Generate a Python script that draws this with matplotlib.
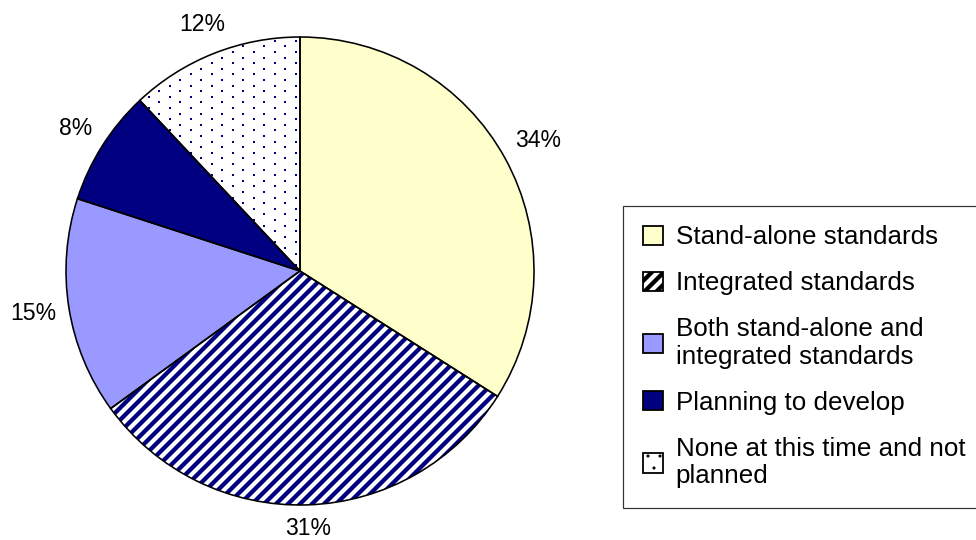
import numpy as np
import matplotlib.pyplot as plt

# dados
categorias = ["Stand-alone standards", "Integrated standards",
              "Both stand-alone and\nintegrated standards",
              "Planning to develop", "None at this time and not\nplanned"]
valores = [34, 31, 15, 8, 12]
cores = ["#FFFFCC", "white", "#9999FF", "#000080", "white"]
hachuras = [None, "//", None, None, None]
pontilhado = [False, False, False, False, True]

plt.rcParams['font.family'] = ['Liberation Sans', 'DejaVu Sans']
plt.rcParams['hatch.linewidth'] = 4.3

DPI = 72
RAIO_PX = 234
fig = plt.figure(figsize=(976 / DPI, 540 / DPI), dpi=DPI)
ax = fig.add_axes([(300 - RAIO_PX) / 976, (269 - RAIO_PX) / 540,
                   2 * RAIO_PX / 976, 2 * RAIO_PX / 540])

# camada de preenchimento (hachuras em azul marinho)
wedges, textos, pcts = ax.pie(valores, colors=cores, startangle=90, counterclock=False,
                              radius=1, autopct='%1.0f%%', pctdistance=1.12,
                              wedgeprops=dict(linewidth=0, edgecolor="#000080"),
                              textprops=dict(fontsize=23))
for w, h in zip(wedges, hachuras):
    if h:
        w.set_hatch(h)

# textura de pontos (padrão "None at this time")
passo_x = 21.0 / RAIO_PX
passo_y = 5.6 / RAIO_PX
for w, p in zip(wedges, pontilhado):
    if not p:
        continue
    linhas = np.arange(-1.05, 1.05, passo_y)
    xs, ys = [], []
    for i, yy in enumerate(linhas):
        off = (passo_x / 2) * (i % 2)
        xx = np.arange(-1.05 + off, 1.05, passo_x)
        xs.extend(xx)
        ys.extend([yy] * len(xx))
    sc = ax.scatter(xs, ys, s=2.2, marker='s', c="#000080", linewidths=0)
    sc.set_clip_path(w)

# contornos pretos por cima
contornos, _ = ax.pie(valores, colors=["none"] * 5, startangle=90, counterclock=False,
                      radius=1, wedgeprops=dict(linewidth=1.6, edgecolor="black"))

# rótulos de porcentagem fora do círculo, com folga constante
fig.canvas.draw()
r = fig.canvas.get_renderer()
acum = 0
for t, v in zip(pcts, valores):
    ang = np.deg2rad(90 - (acum + v / 2) / sum(valores) * 360)
    acum += v
    bb = t.get_window_extent(renderer=r)
    meia = (bb.width / 2 * abs(np.cos(ang)) + bb.height / 2 * abs(np.sin(ang))) / RAIO_PX
    d = 1 + 0.05 + meia
    t.set_position((d * np.cos(ang), d * np.sin(ang)))
    t.set_ha('center')
    t.set_va('center')

ax.set_xlim(-1, 1)
ax.set_ylim(-1, 1)
ax.set_aspect('equal')
ax.axis('off')

leg = fig.legend(wedges, categorias, loc='upper left',
                 bbox_to_anchor=(623 / 976, 1 - 206 / 540), borderaxespad=0,
                 fontsize=26, frameon=True, fancybox=False, edgecolor='black',
                 handlelength=0.77, handleheight=0.77, handletextpad=0.5,
                 labelspacing=0.84, borderpad=0.75)
leg.get_frame().set_linewidth(1.2)
for t in leg.get_texts():
    t.set_linespacing(1.2)
for h, p in zip(leg.legend_handles, pontilhado):
    h.set_edgecolor('black')
    h.set_linewidth(1.8)
    if p and hasattr(h, 'set_hatch_linewidth'):
        h.set_hatch('.')
        h.set_hatch_linewidth(0.6)

fig.savefig("out.png", dpi=DPI)
